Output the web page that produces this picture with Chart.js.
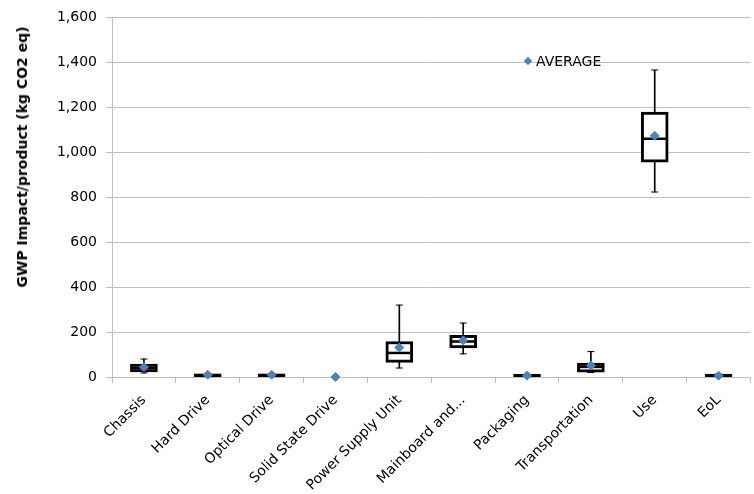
<!DOCTYPE html>
<html>
<head>
<meta charset="utf-8">
<script src="https://cdn.jsdelivr.net/npm/chart.js@4"></script>
<style>
  html, body { margin: 0; padding: 0; background: #fff; overflow: hidden; }
  #wrap { position: relative; width: 754px; height: 494px; overflow: hidden; }
  #c { position: absolute; left: 0; top: 0; }
  #legend { position: absolute; left: 525px; top: 53px; font: 14px "DejaVu Sans", sans-serif; color: #000; white-space: nowrap; }
  #legend .dia { display: inline-block; width: 6px; height: 6px; background: #4F81BD; transform: rotate(45deg); margin-right: 5px; vertical-align: 2px; }
  #ytitle { position: absolute; left: 22px; top: 157px; transform: translate(-50%, -50%) rotate(-90deg);
            font: bold 14px "DejaVu Sans", sans-serif; color: #000; white-space: nowrap; }
</style>
</head>
<body>
<div id="wrap">
  <canvas id="c" width="766" height="494"></canvas>
  <div id="legend"><span class="dia"></span>AVERAGE</div>
  <div id="ytitle">GWP Impact/product (kg CO2 eq)</div>
</div>
<script>
const categories = ['Chassis', 'Hard Drive', 'Optical Drive', 'Solid State Drive', 'Power Supply Unit',
                    'Mainboard and...', 'Packaging', 'Transportation', 'Use', 'EoL'];
const minVals    = [18, 2, 2, null, 40, 103, 1, 20, 823, 1];
const q1Vals     = [23, 2, 2, null, 65, 129, 1, 22, 956, 1];
const medianVals = [40, 8, 8, null, 107, 158, 6, 45, 1060, 7];
const q3Vals     = [58, 14, 14, null, 158, 185, 12, 62, 1179, 13];
const maxVals    = [80, 14, 14, null, 320, 240, 12, 113, 1366, 13];
const meanVals   = [44, 10, 10, 0, 131, 163, 6, 51, 1073, 6];
const yTicks     = [0, 200, 400, 600, 800, 1000, 1200, 1400, 1600];

const FONT = '"DejaVu Sans", sans-serif';
const GRID = '#BFBFBF';

new Chart(document.getElementById('c'), {
  type: 'bar',
  data: {
    labels: categories,
    datasets: [
      { type: 'bar', label: 'whisker',
        data: categories.map((_, i) => minVals[i] == null ? null : [minVals[i], maxVals[i]]),
        backgroundColor: '#000', barThickness: 1, grouped: false, order: 5 },
      { type: 'bar', label: 'box',
        data: categories.map((_, i) => q1Vals[i] == null ? null : [q1Vals[i], q3Vals[i]]),
        backgroundColor: '#fff', borderColor: '#000', borderWidth: 3, borderSkipped: false,
        barThickness: 27, grouped: false, order: 4 },
      { type: 'line', label: 'min', data: minVals, showLine: false, pointStyle: 'line',
        pointRadius: 3.5, pointBorderWidth: 1, pointBorderColor: '#000', order: 3, clip: false },
      { type: 'line', label: 'max', data: maxVals, showLine: false, pointStyle: 'line',
        pointRadius: 3.5, pointBorderWidth: 1, pointBorderColor: '#000', order: 3, clip: false },
      { type: 'line', label: 'median', data: medianVals, showLine: false, pointStyle: 'line',
        pointRadius: 13, pointBorderWidth: 2.5, pointBorderColor: '#000', order: 2, clip: false },
      { type: 'line', label: 'AVERAGE', data: meanVals, showLine: false, pointStyle: 'rectRot',
        pointRadius: 4.5, pointBackgroundColor: '#4F81BD', pointBorderColor: '#4F81BD',
        pointBorderWidth: 1, order: 1, clip: false }
    ]
  },
  options: {
    responsive: false,
    animation: false,
    devicePixelRatio: 1,
    layout: { padding: { top: 17, right: 3, left: 0, bottom: 0 } },
    plugins: { legend: { display: false }, tooltip: { enabled: false } },
    scales: {
      x: {
        offset: true,
        grid: { offset: true, drawOnChartArea: false, color: GRID, tickLength: 6 },
        border: { color: GRID },
        ticks: { color: '#000', font: { family: FONT, size: 14 }, minRotation: 45, maxRotation: 45, autoSkip: false, padding: 9 },
        afterFit: s => { s.height = 117; }
      },
      y: {
        min: 0, max: 1600,
        afterBuildTicks: s => { s.ticks = yTicks.map(v => ({ value: v })); },
        grid: { color: GRID, tickLength: 6 },
        border: { color: GRID },
        ticks: { color: '#000', font: { family: FONT, size: 14 }, padding: 9,
                 callback: v => Number(v).toLocaleString('en-US') },
        afterFit: s => { s.width = 112; }
      }
    }
  }
});
</script>
</body>
</html>
